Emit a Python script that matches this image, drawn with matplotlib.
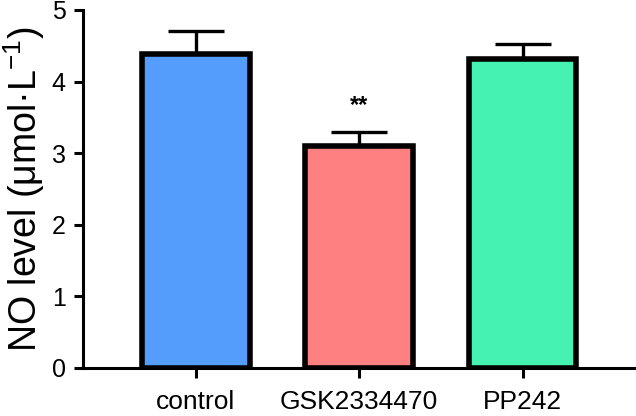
import numpy as np
import matplotlib
matplotlib.use('Agg')
import matplotlib.pyplot as plt

# Data
groups = ['control', 'GSK2334470', 'PP242']
means = [4.38, 3.10, 4.32]
errors = [0.32, 0.20, 0.21]
colors = ['#559DFD', '#FF8080', '#45F2B1']
sig = ['', '**', '']

plt.rcParams['font.family'] = ['Liberation Sans', 'DejaVu Sans']
plt.rcParams['mathtext.default'] = 'regular'

fig = plt.figure(figsize=(6.36, 4.16), dpi=100)
ax = fig.add_axes([0.1305, 0.1154, 0.867, 0.8606])

x = np.arange(len(groups))
ax.bar(x, means, width=0.66, color=colors, edgecolor='black', linewidth=4, zorder=3)
ax.errorbar(x, means, yerr=[np.zeros(len(errors)), errors], fmt='none', ecolor='black',
            elinewidth=2.4, capsize=20, capthick=2.4, zorder=2)

for xi, m, e, s in zip(x, means, errors, sig):
    if s:
        ax.text(xi, m + e + 0.2, s, ha='center', va='bottom', fontsize=17, fontweight='bold')

ax.set_xlim(-0.691, 2.685)
ax.set_ylim(0, 5)
ax.set_yticks([0, 1, 2, 3, 4, 5])
ax.set_xticks(x)
ax.set_xticklabels(groups)
ax.set_ylabel('NO level (μmol·L$^{-1}$)', fontsize=27, labelpad=3)

for side in ['top', 'right']:
    ax.spines[side].set_visible(False)
for side in ['left', 'bottom']:
    ax.spines[side].set_linewidth(2.2)
ax.tick_params(axis='y', length=6.5, width=2.2, labelsize=18, pad=6)
ax.tick_params(axis='x', length=7, width=2.2, labelsize=19, pad=9)

fig.savefig('out.png', dpi=100)
